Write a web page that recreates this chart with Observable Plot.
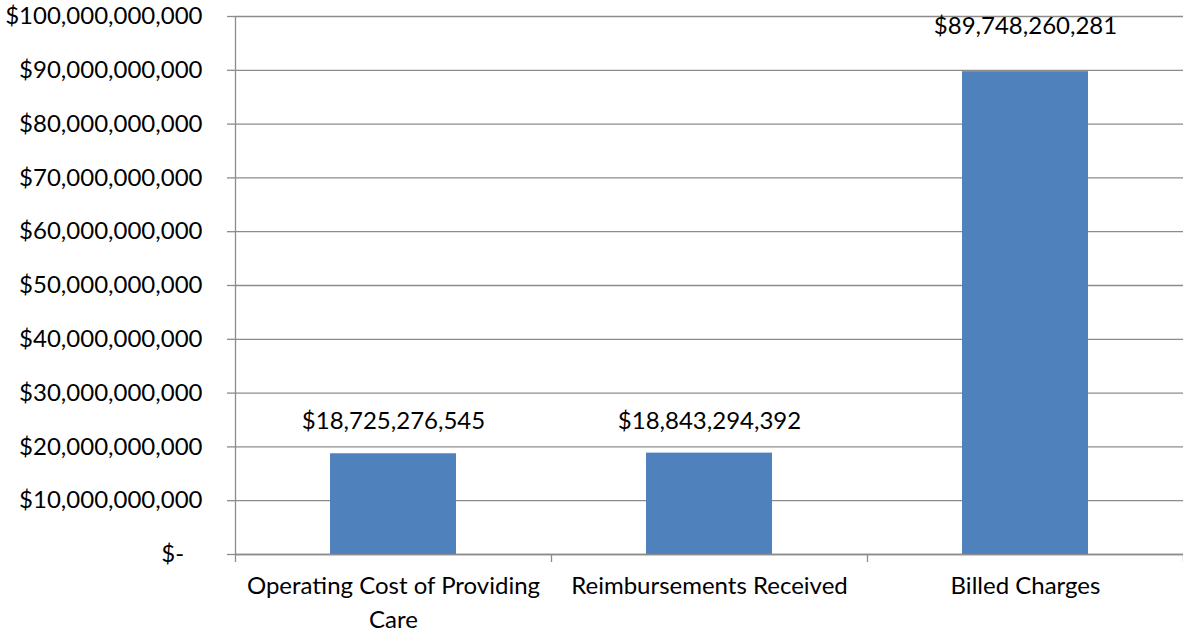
<!DOCTYPE html>
<html>
<head>
<meta charset="utf-8">
<script src="https://cdn.jsdelivr.net/npm/d3@7"></script>
<script src="https://cdn.jsdelivr.net/npm/@observablehq/plot@0.6"></script>
<style>
  html, body { margin: 0; padding: 0; background: #fff; }
  #chart svg { display: block; }
  #chart svg text { font-weight: 400; }
</style>
</head>
<body>
<div id="chart"></div>
<script>
const categories = ["Operating Cost of Providing Care", "Reimbursements Received", "Billed Charges"];
const values = [18725276545, 18843294392, 89748260281];
const yTicks = [0, 10e9, 20e9, 30e9, 40e9, 50e9, 60e9, 70e9, 80e9, 90e9, 100e9];

const data = categories.map((c, i) => ({category: c, index: i, value: values[i]}));
const fmtMoney = d => d === 0 ? "$-\u00a0\u00a0\u00a0" : "$" + d3.format(",")(d);
const labelFor = d => {
  const c = categories[Math.floor(d)];
  return c === "Operating Cost of Providing Care" ? "Operating Cost of Providing\nCare" : c;
};

const font = "Lato, 'Open Sans', sans-serif";
const gridColor = "#8c8c8c";
const fs = 24;

const chart = Plot.plot({
  width: 1183,
  height: 634,
  marginLeft: 235,
  marginRight: 0,
  marginTop: 16,
  marginBottom: 80,
  style: {fontFamily: font, fontSize: fs + "px", color: "#000", background: "#fff"},
  x: {type: "linear", domain: [0, categories.length]},
  y: {domain: [0, 100e9]},
  marks: [
    Plot.gridY(yTicks, {stroke: gridColor, strokeOpacity: 1, strokeWidth: 1.3}),
    Plot.axisY({ticks: yTicks, tickSize: 8, tickPadding: 25, tickFormat: fmtMoney, stroke: gridColor, strokeWidth: 1.3, label: null, fontSize: fs, fill: "#000"}),
    Plot.ruleX([0], {stroke: gridColor, strokeWidth: 1.3}),
    Plot.axisX({ticks: d3.range(categories.length + 1), tickSize: 8, tickFormat: () => "", stroke: gridColor, strokeWidth: 1.3, label: null}),
    Plot.axisX({ticks: categories.map((c, i) => i + 0.5), tickSize: 0, tickPadding: 16, tickFormat: labelFor, label: null, fontSize: fs, lineHeight: 1.4, fill: "#000"}),
    Plot.rectY(data, {x1: "index", x2: d => d.index + 1, y: "value", fill: "#4F81BD", insetLeft: 95, insetRight: 95}),
    Plot.ruleY([0], {stroke: gridColor, strokeWidth: 1.3}),
    Plot.text(data.filter(d => d.value < 50e9), {x: d => d.index + 0.5, y: "value", text: d => fmtMoney(d.value), dy: -32, fontSize: fs, fill: "#000"}),
    Plot.text(data.filter(d => d.value >= 50e9), {x: d => d.index + 0.5, y: "value", text: d => fmtMoney(d.value), dy: -45, fontSize: fs, fill: "#000"})
  ]
});
document.getElementById("chart").appendChild(chart);
</script>
</body>
</html>
